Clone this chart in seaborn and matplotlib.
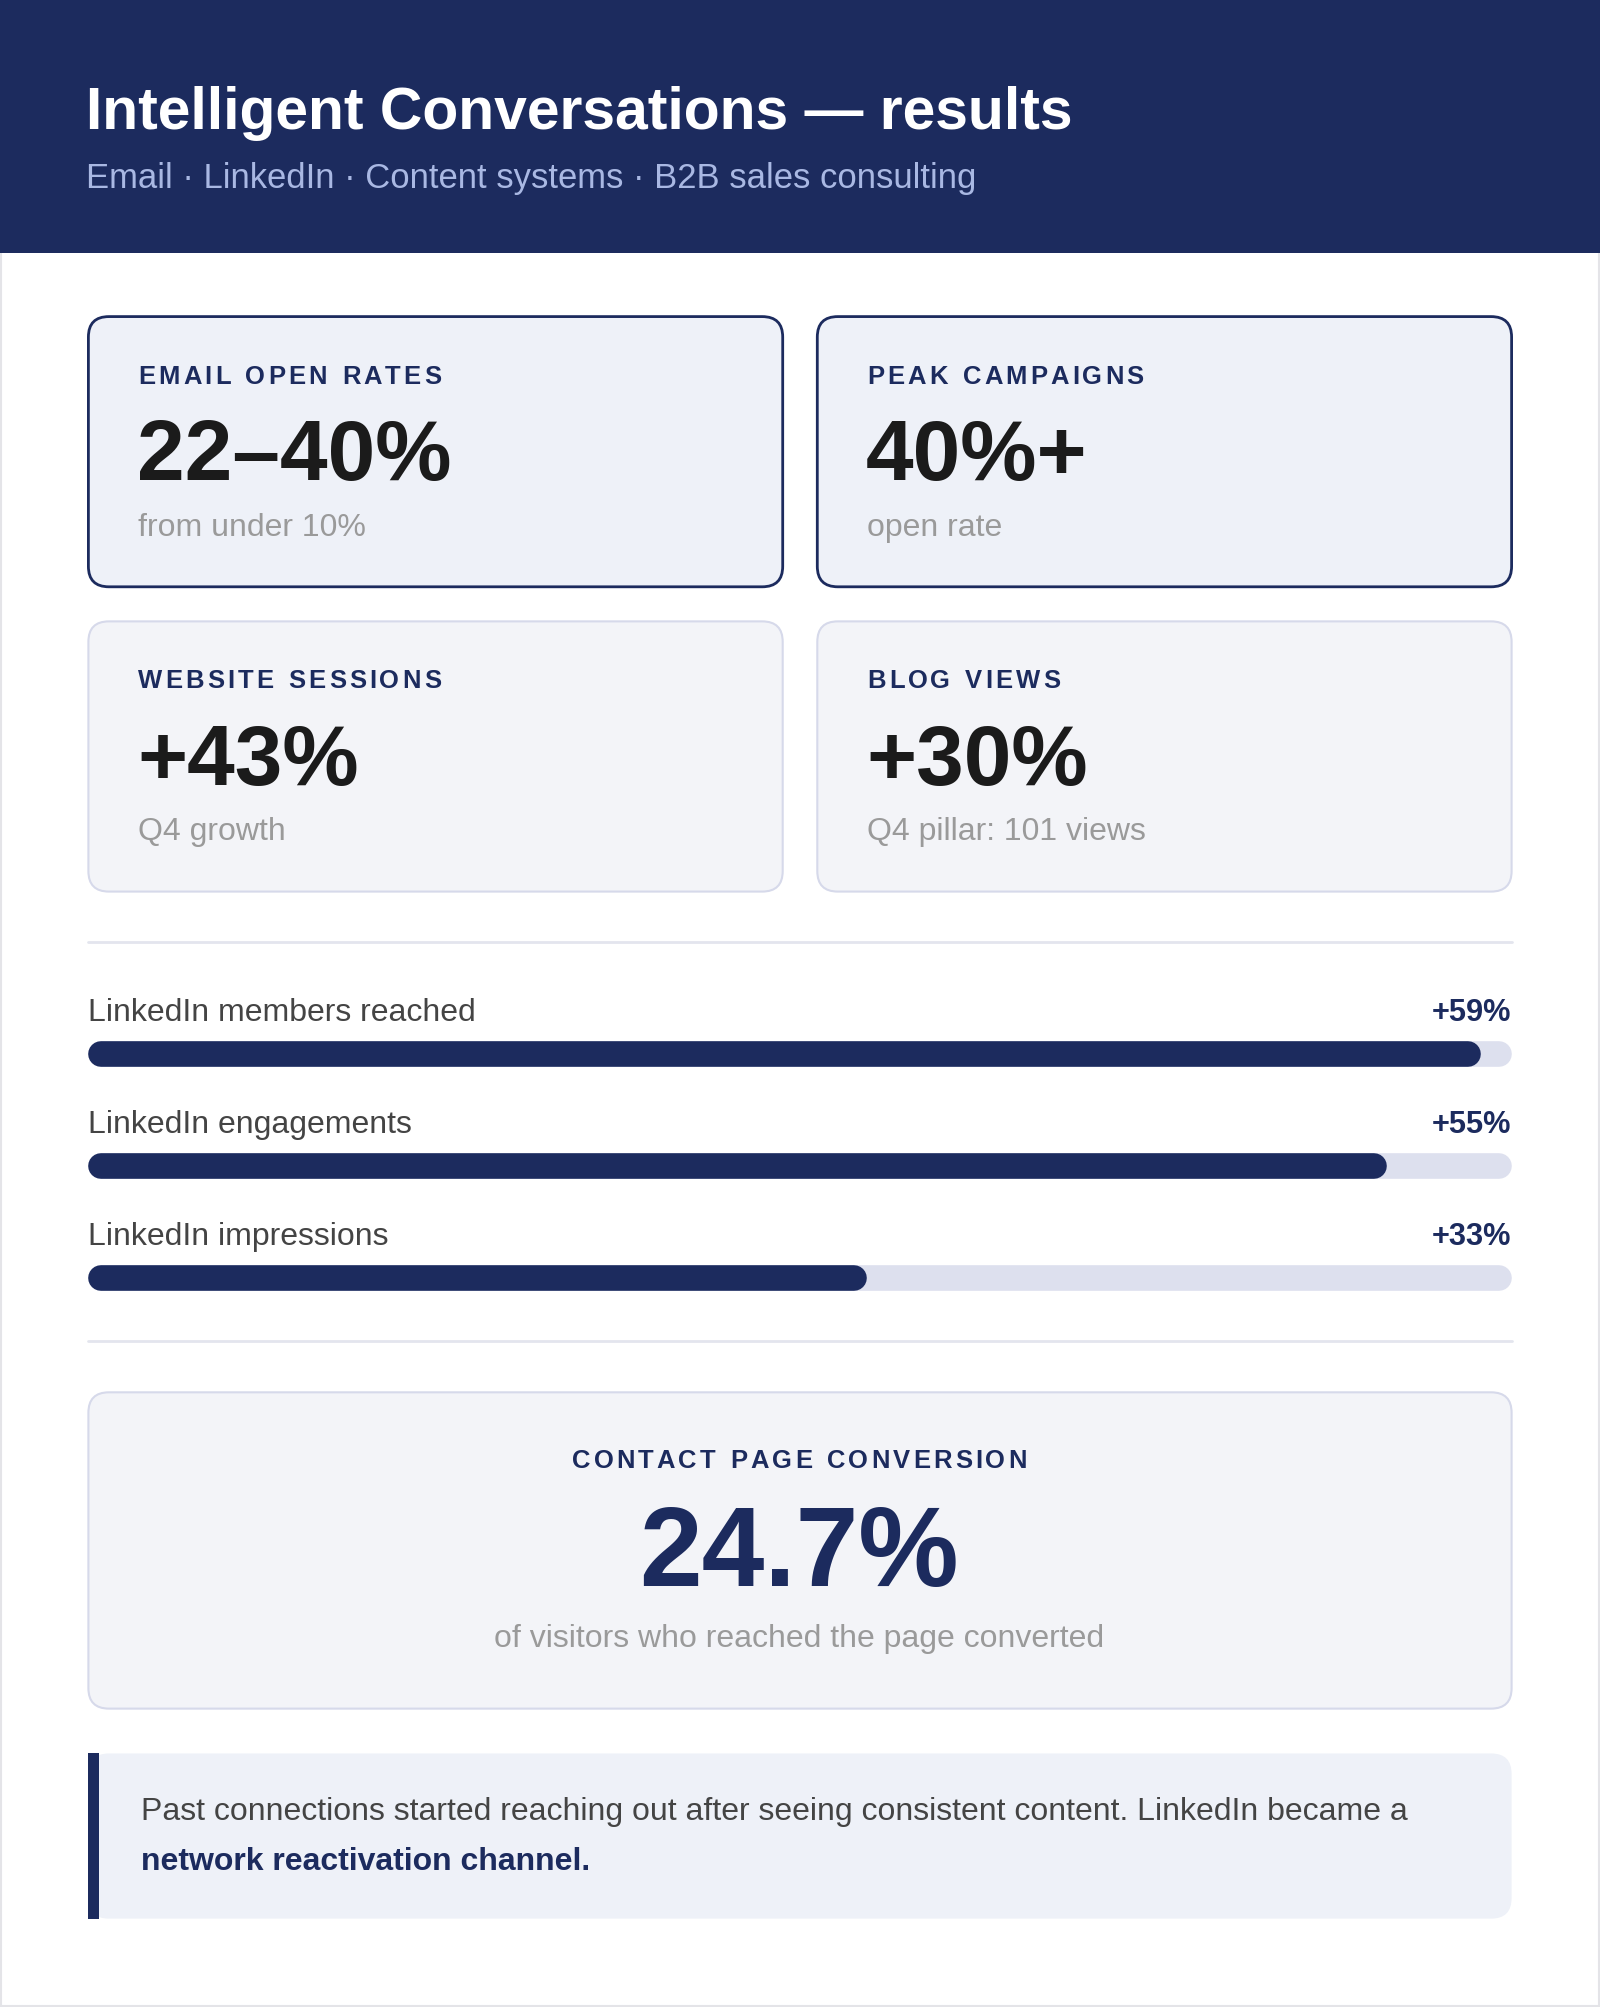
import matplotlib
matplotlib.use("Agg")
import matplotlib.pyplot as plt
from matplotlib.patches import FancyBboxPatch, Rectangle
import seaborn as sns

sns.set_theme(style="white")
plt.rcParams['font.family'] = ['Liberation Sans', 'DejaVu Sans']

title = "Intelligent Conversations \u2014 results"
subtitle = "Email \u00b7 LinkedIn \u00b7 Content systems \u00b7 B2B sales consulting"
card_labels = ["EMAIL OPEN RATES", "PEAK CAMPAIGNS", "WEBSITE SESSIONS", "BLOG VIEWS"]
card_values = ["22\u201340%", "40%+", "+43%", "+30%"]
card_notes = ["from under 10%", "open rate", "Q4 growth", "Q4 pillar: 101 views"]
bar_names = ["LinkedIn members reached", "LinkedIn engagements", "LinkedIn impressions"]
bar_values = [59, 55, 33]
bar_max = 60.3
conv_label = "CONTACT PAGE CONVERSION"
conv_value = "24.7%"
conv_note = "of visitors who reached the page converted"
quote_1 = "Past connections started reaching out after seeing consistent content. LinkedIn became a"
quote_2 = "network reactivation channel."

NAVY = "#1c2b5e"
W, H = 1249, 1568
S = 1600 / W


def fs(px):
    return px * S * 0.72


fig = plt.figure(figsize=(16, 20.08), dpi=100)
ax = fig.add_axes([0, 0, 1, 1])
ax.set_xlim(0, W)
ax.set_ylim(H, 0)
ax.axis("off")
renderer = fig.canvas.get_renderer()


def spaced(x, y, s, size, spacing, ha="left"):
    # draw text char by char with extra letter spacing (in display px)
    widths = []
    for ch in s:
        t = ax.text(0, 0, ch if ch != " " else "n", fontsize=size, fontweight="bold")
        bb = t.get_window_extent(renderer)
        widths.append(bb.width / S * (0.55 if ch == " " else 1.0))
        t.remove()
    total = sum(widths) + spacing * (len(s) - 1)
    cx = x - total / 2 if ha == "center" else x
    for ch, w in zip(s, widths):
        if ch != " ":
            ax.text(cx, y, ch, fontsize=size, fontweight="bold", color=NAVY, va="center")
        cx += w + spacing


ax.add_patch(Rectangle((0.5, 0.5), W - 1, H - 1, fc="white", ec="#e4e4e8", lw=1.5))
ax.add_patch(Rectangle((0, 0), W, 198, fc=NAVY, ec="none"))
ax.text(67, 89, title, fontsize=fs(46), fontweight="bold", color="white", va="center")
ax.text(67, 139, subtitle, fontsize=fs(27), color="#a9b8e3", va="center")


def card(x, y, w, h, fc, ec, lw):
    ax.add_patch(FancyBboxPatch((x, y), w, h, boxstyle="round,pad=0,rounding_size=16",
                                fc=fc, ec=ec, lw=lw))


pos = [(69, 248), (638, 248), (69, 486), (638, 486)]
for i, (x, y) in enumerate(pos):
    if i < 2:
        card(x, y, 542, 211, "#eef1f8", NAVY, 2)
    else:
        card(x, y, 542, 211, "#f3f4f8", "#d6d9ea", 1.5)
    spaced(x + 39, y + 46, card_labels[i], fs(20), 2.4)
    ax.text(x + 38, y + 110, card_values[i], fontsize=fs(67), fontweight="bold",
            color="#1b1b1b", va="center")
    ax.text(x + 39, y + 164, card_notes[i], fontsize=fs(25), color="#9a9a9a", va="center")

ax.plot([69, 1180], [736, 736], color="#e3e5ee", lw=2)
ax.plot([69, 1180], [1048, 1048], color="#e3e5ee", lw=2)

# bars in their own axes with data scale 0..bar_max
x0, x1 = 69 / W, 1180 / W
y_top, y_bot = 1 - 780 / H, 1 - 1030 / H
bax = fig.add_axes([x0, y_bot, x1 - x0, y_top - y_bot])
bax.set_xlim(0, bar_max)
bax.set_ylim(1030, 780)
bax.axis("off")
r = 10 / 1111 * bar_max
lw_bar = fs(20)
for i, (name, v) in enumerate(zip(bar_names, bar_values)):
    yb = 824 + i * 87.5
    ax.text(69, yb - 33, name, fontsize=fs(25), color="#444444", va="center")
    ax.text(1180, yb - 33, f"+{v}%", fontsize=fs(24), fontweight="bold", color=NAVY,
            va="center", ha="right")
    bax.plot([r, bar_max - r], [yb, yb], color="#dde0ee", lw=lw_bar, solid_capstyle="round")
    bax.plot([r, v - r], [yb, yb], color=NAVY, lw=lw_bar, solid_capstyle="round")

card(69, 1088, 1111, 247, "#f3f4f8", "#d6d9ea", 1.5)
spaced(624, 1141, conv_label, fs(20), 2.4, ha="center")
ax.text(624, 1216, conv_value, fontsize=fs(88), fontweight="bold", color=NAVY,
        va="center", ha="center")
ax.text(624, 1280, conv_note, fontsize=fs(25), color="#9a9a9a", va="center", ha="center")

card(69, 1370, 1111, 129, "#eef1f8", "none", 0)
ax.add_patch(Rectangle((69, 1370), 8, 129, fc=NAVY, ec="none"))
ax.text(110, 1415, quote_1, fontsize=fs(25), color="#444444", va="center")
ax.text(110, 1454, quote_2, fontsize=fs(25), fontweight="bold", color=NAVY, va="center")

fig.savefig("out.png", dpi=100)
